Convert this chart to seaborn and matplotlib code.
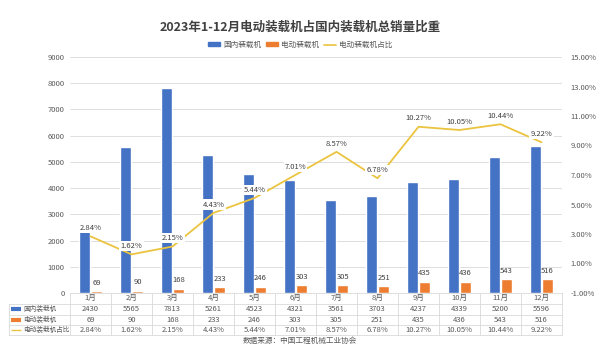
import matplotlib
matplotlib.use('Agg')
import matplotlib.pyplot as plt
import seaborn as sns
import pandas as pd
from matplotlib.lines import Line2D
from matplotlib.patches import Patch
from matplotlib.ticker import FuncFormatter

months = ['1月', '2月', '3月', '4月', '5月', '6月', '7月', '8月', '9月', '10月', '11月', '12月']
domestic = [2430, 5565, 7813, 5261, 4523, 4321, 3561, 3703, 4237, 4339, 5200, 5596]
electric = [69, 90, 168, 233, 246, 303, 305, 251, 435, 436, 543, 516]
share = [2.84, 1.62, 2.15, 4.43, 5.44, 7.01, 8.57, 6.78, 10.27, 10.05, 10.44, 9.22]
names = ['国内装载机', '电动装载机', '电动装载机占比']

BLUE, ORANGE, GOLD = '#4472C4', '#ED7D31', '#EBC43F'
TXT, GRID = '#595959', '#D9D9D9'

sns.set_style('white')
plt.rcParams['font.family'] = ['Noto Sans CJK SC', 'DejaVu Sans']
plt.rcParams['axes.unicode_minus'] = False

df = pd.DataFrame({
    'month': months * 2,
    'value': domestic + electric,
    'series': [names[0]] * 12 + [names[1]] * 12,
})

fig = plt.figure(figsize=(6, 3.51), dpi=100)
ax = fig.add_axes([70 / 600, 1 - 293 / 351, 492 / 600, 236 / 351])

sns.barplot(data=df, x='month', y='value', hue='series', palette=[BLUE, ORANGE],
            width=0.6, gap=0.15, saturation=1, legend=False, ax=ax)
ax.set_ylim(0, 9000)
ax.set_yticks(range(0, 9001, 1000))
ax.yaxis.grid(True, color=GRID, linewidth=0.6)
ax.set_axisbelow(True)
ax.set_xlabel('')
ax.set_ylabel('')
ax.set_xticklabels([])
ax.tick_params(axis='x', length=0)
ax.tick_params(axis='y', length=0, labelsize=5.5, labelcolor=TXT, pad=4)
for s in ax.spines.values():
    s.set_visible(False)
ax.bar_label(ax.containers[1], fontsize=5.5, padding=3, color='#404040')

ax2 = ax.twinx()
sns.lineplot(x=list(range(12)), y=share, color=GOLD, linewidth=1.3, ax=ax2)
ax2.set_ylim(-1, 15)
ax2.set_yticks(range(-1, 16, 2))
ax2.yaxis.set_major_formatter(FuncFormatter(lambda v, p: f'{v:.2f}%'))
ax2.tick_params(axis='y', length=0, labelsize=5.5, labelcolor=TXT, pad=6)
for s in ax2.spines.values():
    s.set_visible(False)
for i, v in enumerate(share):
    ax2.annotate(f'{v:.2f}%', (i, v), xytext=(0, 6), textcoords='offset points',
                 ha='center', va='center', fontsize=5.5, color='#404040',
                 bbox=dict(boxstyle='square,pad=0.15', fc='white', ec='none'))
ax.set_xlim(-0.5, 11.5)

# data table under the chart
tr = ax.get_xaxis_transform()
h = 236
left = -2.0
rows_y = [-5 / h, -16 / h, -27 / h, -37 / h]
lines_y = [0, -11 / h, -22 / h, -32 / h, -42 / h]
for i in range(13):
    ax.plot([i - 0.5, i - 0.5], [0, lines_y[-1]], transform=tr, color=GRID,
            linewidth=0.6, clip_on=False)
for j, y in enumerate(lines_y):
    x0 = -0.5 if j == 0 else left
    ax.plot([x0, 11.5], [y, y], transform=tr, color=GRID, linewidth=0.6, clip_on=False)
ax.plot([left, left], [lines_y[1], lines_y[-1]], transform=tr, color=GRID,
        linewidth=0.6, clip_on=False)
for i in range(12):
    ax.text(i, rows_y[0], months[i], transform=tr, ha='center', va='center', fontsize=5.5, color=TXT)
    ax.text(i, rows_y[1], str(domestic[i]), transform=tr, ha='center', va='center', fontsize=5.5, color=TXT)
    ax.text(i, rows_y[2], str(electric[i]), transform=tr, ha='center', va='center', fontsize=5.5, color=TXT)
    ax.text(i, rows_y[3], f'{share[i]:.2f}%', transform=tr, ha='center', va='center', fontsize=5.5, color=TXT)
keys = [(BLUE, 3), (ORANGE, 3), (GOLD, 1)]
for k, (c, lw) in enumerate(keys):
    y = rows_y[k + 1]
    ax.plot([-1.93, -1.70], [y, y], transform=tr, color=c, linewidth=lw, clip_on=False,
            solid_capstyle='butt')
    ax.text(-1.64, y, names[k], transform=tr, ha='left', va='center', fontsize=4.8, color=TXT)

fig.text(0.5, 1 - 27 / 351, '2023年1-12月电动装载机占国内装载机总销量比重', ha='center', va='center',
         fontsize=9, fontweight='bold', color='#404040')
handles = [Patch(color=BLUE), Patch(color=ORANGE), Line2D([], [], color=GOLD, linewidth=1.2)]
fig.legend(handles, names, loc='center', bbox_to_anchor=(0.5, 1 - 45 / 351), ncol=3,
           frameon=False, fontsize=5.5, handlelength=1.6, handleheight=0.5,
           columnspacing=0.6, handletextpad=0.4, labelcolor=TXT)
fig.text(0.5, 1 - 341 / 351, '数据来源：中国工程机械工业协会', ha='center', va='center',
         fontsize=5.5, color=TXT)

fig.savefig('out.png', dpi=100, facecolor='white')
